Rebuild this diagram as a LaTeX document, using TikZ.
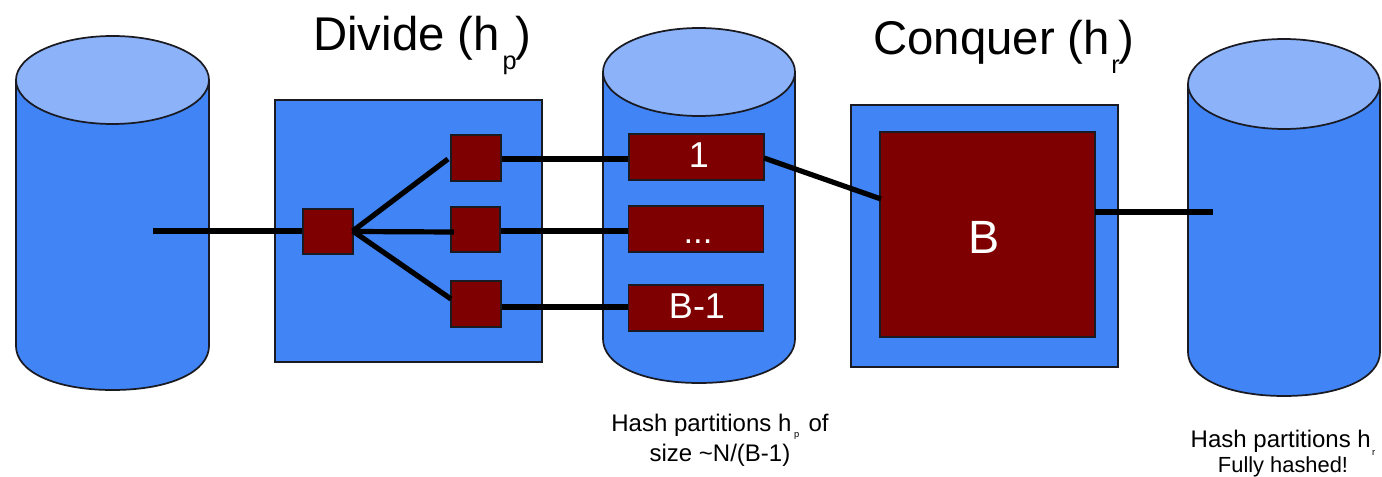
\documentclass[tikz,border=0pt]{standalone}
\usepackage{fontspec}
\setmainfont{Liberation Sans}
\definecolor{dbblue}{HTML}{4084F5}
\definecolor{dbtop}{HTML}{8CB3F9}
\definecolor{dbred}{HTML}{7F0000}
\definecolor{edgeink}{HTML}{1A1A22}
\newcommand{\fs}[1]{\fontsize{#1}{#1}\selectfont}
\newcommand{\lowsub}[4]{\kern#3\raisebox{#2}{\fs{#1}#4}}
\tikzset{
  x=0.75pt,y=-0.75pt,
  panel/.style={draw=edgeink,line width=1.3pt,fill=dbblue,inner sep=0pt,outer sep=0pt},
  cell/.style={draw=edgeink,line width=1.3pt,fill=dbred,text=white,inner sep=0pt,outer sep=0pt},
  cellmark/.style={anchor=base,inner sep=0pt,text=white},
  wire/.style={draw=black,line width=3.9pt},
  title/.style={anchor=base west,inner sep=0pt,font=\fs{35.5}},
  note/.style={align=center,inner sep=0pt},
}
% left, right, top of lid, lid centre, base centre, bottom
\newcommand{\drum}[6]{%
  \fill[dbblue,draw=edgeink,line width=1.3pt] (#1,#4) -- (#1,#5)
    .. controls (#1,{#5+0.58*(#6-#5)}) and ({#1+0.2*(#2-#1)},#6) .. ({(#1+#2)/2},#6)
    .. controls ({#2-0.2*(#2-#1)},#6) and (#2,{#5+0.58*(#6-#5)}) .. (#2,#5) -- (#2,#4) -- cycle;
  \draw[fill=dbtop,draw=edgeink,line width=1.3pt] ({(#1+#2)/2},#4) ellipse [x radius={0.5*(#2-#1)},y radius={#4-#3}];
}
\begin{document}
\begin{tikzpicture}
\useasboundingbox (0,0) rectangle (1382,477);
\fill[white] (0,0) rectangle (1382,477);

\drum{16}{209}{36}{80}{346}{390}
\drum{603}{795}{28}{72}{339}{383}
\drum{1188}{1380}{39}{84}{352}{396}

\node[panel,minimum width=267*0.75pt,minimum height=262*0.75pt] (divide) at (408.5,231) {};
\node[panel,minimum width=267*0.75pt,minimum height=262*0.75pt] (conquer) at (984.5,236) {};

\coordinate (srcend) at (153,231);
\coordinate (dstend) at (1213,212);
\coordinate (forktop) at (448,159);
\coordinate (forkmid) at (454,232);
\coordinate (forkbot) at (451,299);

\draw[wire] (srcend) -- (353,231);
\draw[wire] (501,159) -- (630,159);
\draw[wire] (500,231) -- (630,231);
\draw[wire] (501,307) -- (630,307);

\node[cell,minimum width=49.5*0.75pt,minimum height=45*0.75pt] (hub) at (328,231.5) {};
\node[cell,minimum width=49.5*0.75pt,minimum height=46*0.75pt] (s1) at (476,158) {};
\node[cell,minimum width=49.5*0.75pt,minimum height=45*0.75pt] (s2) at (475.5,229.5) {};
\node[cell,minimum width=49.5*0.75pt,minimum height=46*0.75pt] (s3) at (476,304) {};

\node[cell,minimum width=135*0.75pt,minimum height=46*0.75pt] (p1) at (696.5,157) {};
\node[cell,minimum width=135*0.75pt,minimum height=46*0.75pt] (p2) at (696,229) {};
\node[cell,minimum width=135*0.75pt,minimum height=46*0.75pt] (p3) at (696,308) {};
\node[cell,minimum width=215*0.75pt,minimum height=205*0.75pt] (big) at (987.5,234.5) {};
\node[cellmark,font=\fs{27}] (m1) at (699,168) {1};
\node[cellmark,font=\fs{26}] (m2) at (698,244) {...};
\node[cellmark,font=\fs{27}] (m3) at (697,319) {B-1};
\node[cellmark,font=\fs{35}] (m4) at (984,254) {B};

\draw[wire] (hub.east) ++(0,-0.5) -- (forktop);
\draw[wire] (hub.east) -- (forkmid);
\draw[wire] (hub.east) ++(0,-0.5) -- (forkbot);
\draw[wire] (p1.east) ++(0,1) -- (881,199);
\draw[wire] (1095,212) -- (dstend);

\node[title] (t1) at (313,51) {Divide (h\lowsub{19}{-0.4em}{2pt}{p}\kern-1pt)};
\node[title] (t2) at (873,55) {Conquer (h\lowsub{19}{-0.4em}{1pt}{r}\kern-1pt)};
\node[note,font=\fontsize{18}{22.5}\selectfont] (n1) at (720,440) {Hash partitions h\lowsub{7}{-0.28em}{2pt}{p}\kern7pt of\\size \textasciitilde N/(B-1)};
\node[note,font=\fontsize{18}{18.75}\selectfont] (n2) at (1283,454) {Hash partitions h\lowsub{7}{-0.3em}{1pt}{r}\\{\fs{16.4}Fully hashed!}};
\end{tikzpicture}
\end{document}
